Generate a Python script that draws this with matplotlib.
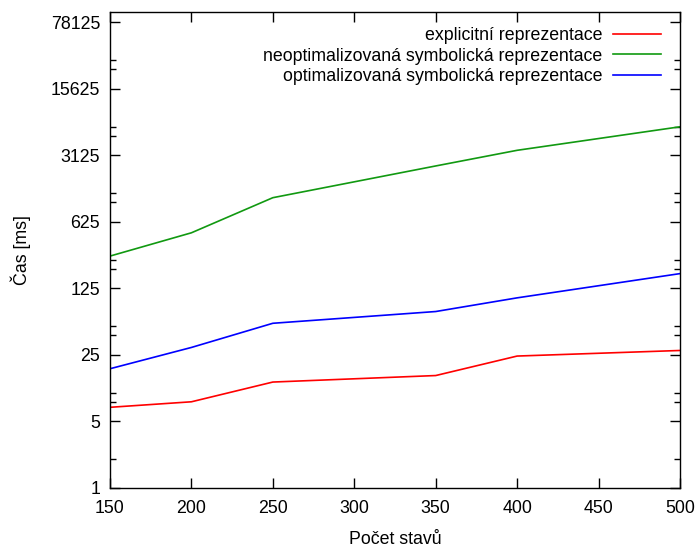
import matplotlib
matplotlib.use("Agg")
import matplotlib.pyplot as plt
from matplotlib.ticker import FixedLocator, NullFormatter, NullLocator

# --- Data ---
states = [150, 200, 250, 350, 400, 500]
explicit = [7.0, 8.0, 12.9, 15.1, 24.2, 27.7]
symbolic_raw = [272, 478, 1118, 2410, 3520, 6220]
symbolic_opt = [17.8, 29.8, 53.5, 71.1, 99.0, 178]

y_ticks = [1, 5, 25, 125, 625, 3125, 15625, 78125]
y_minor = [2, 8, 10, 40, 50, 200, 250, 1000, 1250, 5000, 6250, 25000, 31250]
x_ticks = [150, 200, 250, 300, 350, 400, 450, 500]

plt.rcParams['font.family'] = ['Liberation Sans', 'DejaVu Sans']
FS = 12.8

fig = plt.figure(figsize=(6.96, 5.47), dpi=100)
ax = fig.add_axes([0.158, 0.1084, 0.819, 0.8696])

ax.plot(states, explicit, color='#ff0000', linewidth=1.2, label='explicitní reprezentace')
ax.plot(states, symbolic_raw, color='#119911', linewidth=1.2, label='neoptimalizovaná symbolická reprezentace')
ax.plot(states, symbolic_opt, color='#0000ff', linewidth=1.2, label='optimalizovaná symbolická reprezentace')

ax.set_yscale('log')
ax.set_ylim(1, 100000)
ax.set_xlim(150, 500)
ax.yaxis.set_major_locator(FixedLocator(y_ticks))
ax.set_yticklabels([str(t) for t in y_ticks])
ax.yaxis.set_minor_locator(FixedLocator(y_minor))
ax.yaxis.set_minor_formatter(NullFormatter())
ax.set_xticks(x_ticks)
ax.xaxis.set_minor_locator(NullLocator())

ax.tick_params(which='major', direction='in', length=7, width=1.0,
               top=True, right=True, labelsize=FS)
ax.tick_params(axis='y', which='major', pad=7)
ax.tick_params(axis='x', which='major', pad=9)
ax.tick_params(which='minor', direction='in', length=4, width=1.0, right=True)

for s in ax.spines.values():
    s.set_linewidth(1.0)

ax.set_xlabel('Počet stavů', fontsize=FS, labelpad=10)
ax.set_ylabel('Čas [ms]', fontsize=FS, labelpad=14)

ax.legend(loc='upper right', frameon=False, markerfirst=False, fontsize=FS,
          handlelength=2.7, labelspacing=0.18, handletextpad=0.6,
          borderaxespad=0.3, bbox_to_anchor=(0.988, 0.994))

fig.savefig('out.png', dpi=100)
